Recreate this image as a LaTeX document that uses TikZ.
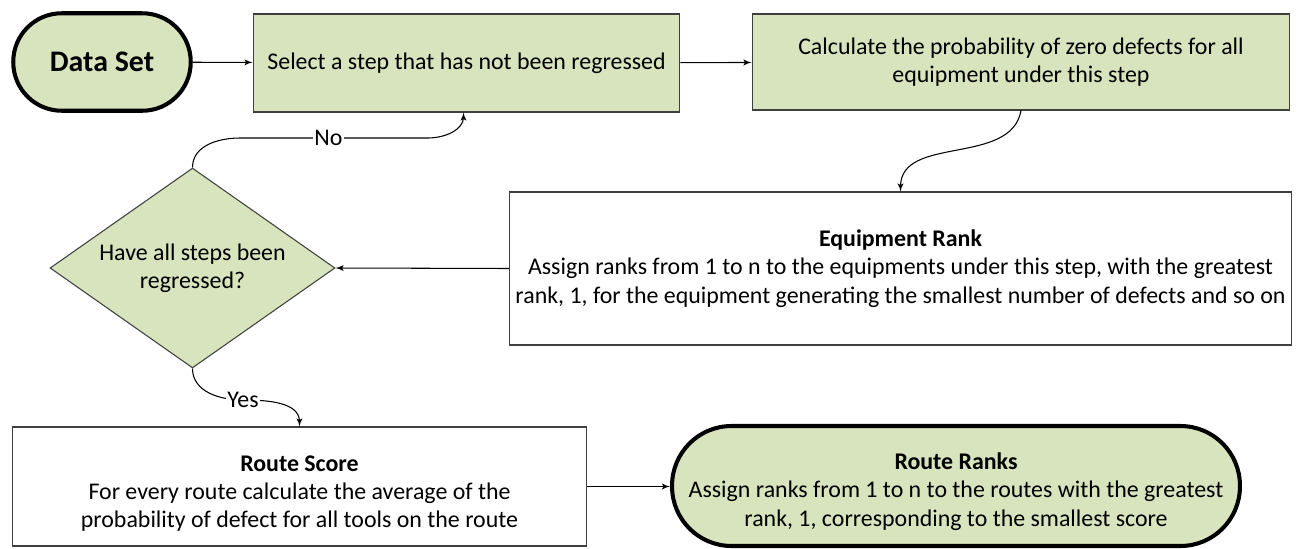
\documentclass[tikz,border=0pt]{standalone}
\usepackage{fontspec}
\setmainfont{Carlito}
\usetikzlibrary{arrows,shapes,calc}
\definecolor{boxgreen}{HTML}{D7E4BD}
\definecolor{edgegray}{HTML}{3F3F3F}

\begin{document}
\begin{tikzpicture}[x=0.02cm,y=-0.02cm,>=latex',font=\fontsize{13.6}{16.2}\selectfont]
  \tikzstyle{terminal}=[rectangle,line width=2.3pt,draw=black,fill=boxgreen,align=center]
  \tikzstyle{process}=[rectangle,draw=edgegray,line width=0.6pt,fill=boxgreen,align=center]
  \tikzstyle{plain}=[rectangle,draw=edgegray,line width=0.6pt,fill=white,align=center]
  \tikzstyle{decision}=[diamond,aspect=1.425,draw=edgegray,line width=0.6pt,fill=boxgreen,
        align=center,inner sep=0pt,minimum width=5.7cm,minimum height=4cm]
  \tikzstyle{link}=[->,line width=0.6pt,black]
  \tikzstyle{answer}=[fill=white,inner sep=1pt]
  \useasboundingbox (0,0) rectangle (1302,548);

  \node [terminal,rounded corners=0.97cm,minimum width=3.55cm,minimum height=1.95cm,
        font=\fontsize{17}{20}\selectfont\bfseries] (data) at (102,62) {Data Set};
  \node [process,minimum width=8.54cm,minimum height=1.96cm] (select) at (466.5,63)
        {Select a step that has not been regressed};
  \node [process,minimum width=10.76cm,minimum height=1.92cm] (calc) at (1021,62)
        {Calculate the probability of zero defects for all\\equipment under this step};
  \node [plain,minimum width=15.58cm,minimum height=3.06cm] (eqrank) at (900.5,268.5)
        {\textbf{Equipment Rank}\\Assign ranks from 1 to n to the equipments under this step, with the greatest\\
         rank, 1, for the equipment generating the smallest number of defects and so on};
  \node [decision] (check) at (192.5,268) {Have all steps been\\regressed?};
  \node [plain,minimum width=11.5cm,minimum height=2.38cm] (rscore) at (299.5,486.5)
        {\rule{0pt}{17pt}\textbf{Route Score}\\For every route calculate the average of the\\
         probability of defect for all tools on the route};
  \node [terminal,rounded corners=1.19cm,minimum width=11.36cm,minimum height=2.4cm] (rranks) at (956,486)
        {\rule{0pt}{15.5pt}\textbf{Route Ranks}\\Assign ranks from 1 to n to the routes with the greatest\\
         rank, 1, corresponding to the smallest score};

  \draw [link] (data) -- (select);
  \draw [link] (select) -- (calc);
  \draw [link] (calc.south) to[out=-100,in=90] (eqrank.north);
  \draw [link] (eqrank.west) -- (check.east);
  \draw [link] (check.north) to[out=90,in=180] (240,138) -- node[answer,pos=0.47]{No} (428,138)
        to[out=0,in=-90] ($(select.south)+(-3,0)$);
  \draw [link] (check.south) to[out=-90,in=180] node[answer,pos=1]{Yes} (243,400)
        to[out=0,in=90] (rscore.north);
  \draw [link] (rscore.east) -- (rranks.west |- rscore.east);
\end{tikzpicture}
\end{document}
